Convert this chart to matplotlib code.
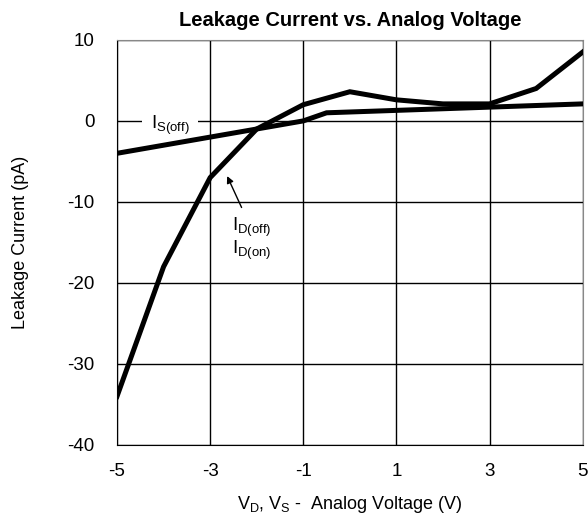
import matplotlib.pyplot as plt

plt.rcParams['font.family'] = ['Liberation Sans', 'DejaVu Sans']
plt.rcParams['mathtext.fontset'] = 'custom'
plt.rcParams['mathtext.rm'] = 'Liberation Sans'

# Leakage current data
vs_is = [-5, -4, -3, -2, -1, -0.5, 1, 3, 5]
is_off = [-4, -3, -2, -1, 0, 1.0, 1.3, 1.7, 2.1]

vd_id = [-5, -4, -3, -2, -1, 0, 1, 2, 3, 4, 5]
id_off = [-34, -18, -7, -1, 2, 3.6, 2.6, 2.1, 2.1, 4.0, 8.5]

x_ticks = [-5, -3, -1, 1, 3, 5]
y_ticks = [-40, -30, -20, -10, 0, 10]

fig = plt.figure(figsize=(5.88, 5.18), dpi=100)
ax = fig.add_axes([0.199, 0.141, 0.792, 0.782])

ax.plot(vs_is, is_off, color='black', lw=3.6, solid_joinstyle='miter', zorder=3)
ax.plot(vd_id, id_off, color='black', lw=3.6, solid_joinstyle='miter', zorder=3)

ax.set_xlim(-5, 5)
ax.set_ylim(-40, 10)
ax.set_xticks(x_ticks)
ax.set_yticks(y_ticks)
ax.set_xticklabels([str(v) for v in x_ticks])
ax.set_yticklabels([str(v) for v in y_ticks])
ax.tick_params(length=0, labelsize=13.5)
ax.tick_params(axis='x', pad=13)
ax.tick_params(axis='y', pad=16)
ax.grid(True, color='black', lw=1.0)
ax.set_axisbelow(True)

for side in ['top', 'right']:
    ax.spines[side].set_color('#888888')
for side in ['left', 'bottom']:
    ax.spines[side].set_color('black')

# Labels
ax.text(-3.86, -1.0, r'I$_{\mathrm{S(off)}}$', fontsize=13.5, ha='center', va='baseline',
        bbox=dict(facecolor='white', edgecolor='none', pad=0, boxstyle='square,pad=0.45'),
        zorder=2)
ax.annotate('', xy=(-2.66, -6.5), xytext=(-2.3, -11.0),
            arrowprops=dict(arrowstyle='-|>', color='black', lw=1.0, mutation_scale=10))
ax.text(-2.53, -13.5, r'I$_{\mathrm{D(off)}}$', fontsize=13.5, ha='left', va='baseline')
ax.text(-2.53, -16.4, r'I$_{\mathrm{D(on)}}$', fontsize=13.5, ha='left', va='baseline')

ax.set_title('Leakage Current vs. Analog Voltage', fontsize=14.5, fontweight='bold', pad=10)
ax.set_xlabel(r'V$_{\mathrm{D}}$, V$_{\mathrm{S}}$ -  Analog Voltage (V)', fontsize=13, labelpad=10)
ax.set_ylabel('Leakage Current (pA)', fontsize=13, labelpad=28)

fig.savefig('out.png', dpi=100)
